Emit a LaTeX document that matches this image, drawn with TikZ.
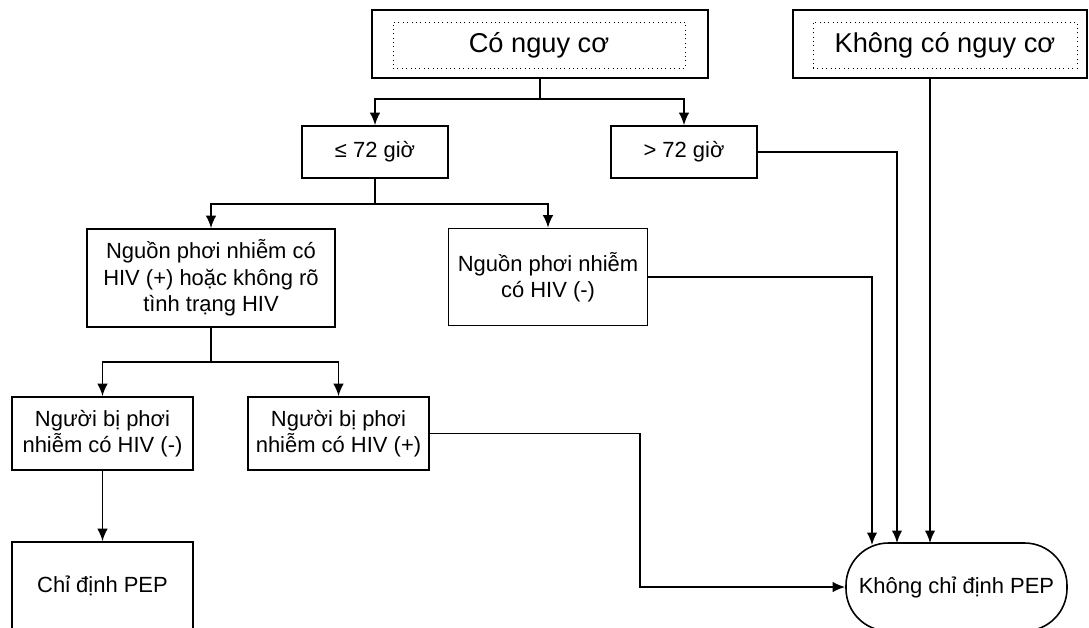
\documentclass[tikz,border=0pt]{standalone}
\usepackage{fontspec}
\setmainfont{Liberation Sans}
\usetikzlibrary{positioning,arrows.meta}

\begin{document}
\begin{tikzpicture}[x=0.02cm, y=-0.02cm,
    box/.style = {draw, line width=0.9pt, align=center, inner sep=0pt, font=\fontsize{12.5}{15}\selectfont},
    outerbox/.style = {draw, line width=1.4pt, inner sep=0pt},
    innerbox/.style = {draw, dotted, line width=0.5pt, inner sep=0pt, font=\fontsize{15.5}{18}\selectfont},
    arr/.style = {-{Latex[length=0.25cm,width=0.21cm]}, line width=1pt}
  ]
  \useasboundingbox (0,0) rectangle (1089,627);
  \clip (0,0) rectangle (1089,627);
  % top level
  \node[outerbox, minimum width=336*0.02cm, minimum height=68*0.02cm] (risk) at (540,44) {};
  \node[innerbox, minimum width=292*0.02cm, minimum height=46*0.02cm] (riskin) at (539,45) {Có nguy cơ};
  \node[outerbox, minimum width=294*0.02cm, minimum height=68*0.02cm] (norisk) at (940,44) {};
  \node[innerbox, minimum width=264*0.02cm, minimum height=46*0.02cm] (noriskin) at (945,45) {Không có nguy cơ};
  % time
  \node[box, minimum width=146*0.02cm, minimum height=52*0.02cm] (le72) at (375,152) {≤ 72 giờ};
  \node[box, minimum width=146*0.02cm, minimum height=52*0.02cm] (gt72) at (684,152) {> 72 giờ};
  % source
  \node[box, minimum width=248*0.02cm, minimum height=98*0.02cm] (srcpos) at (211,278) {Nguồn phơi nhiễm có\\HIV (+) hoặc không rõ\\tình trạng HIV};
  \node[box, minimum width=199*0.02cm, minimum height=97*0.02cm] (srcneg) at (548,277) {Nguồn phơi nhiễm\\có HIV (-)};
  % exposed person
  \node[box, minimum width=181*0.02cm, minimum height=73*0.02cm] (expneg) at (102.5,433.5) {Người bị phơi\\nhiễm có HIV (-)};
  \node[box, minimum width=181*0.02cm, minimum height=73*0.02cm] (exppos) at (338.5,433.5) {Người bị phơi\\nhiễm có HIV (+)};
  % result
  \node[box, minimum width=181*0.02cm, minimum height=88*0.02cm] (pep) at (102.5,586) {Chỉ định PEP};
  \node[box, rounded corners=0.85cm, minimum width=221*0.02cm, minimum height=88*0.02cm] (nopep) at (956.5,587) {Không chỉ định PEP};
  \coordinate (in1) at (872,545);
  \coordinate (in2) at (897,543);
  \coordinate (in3) at (930,543);

  \foreach \t in {le72,gt72} \draw[arr] (risk.south) -- ++(0,20) -| (\t.north);
  \foreach \t in {srcpos,srcneg} \draw[arr] (le72.south) -- ++(0,25) -| (\t.north);
  \foreach \t in {expneg,exppos} \draw[arr] (srcpos.south) -- ++(0,34) -| (\t.north);
  \draw[arr] (expneg) -- (pep);
  \draw[arr] (gt72.east) -| (in2);
  \draw[arr] (srcneg.east) -| (in1);
  \draw[arr] (norisk.south -| in3) -- (in3);
  \draw[arr] (exppos.east) -- ++(210,0) |- (nopep.west);
\end{tikzpicture}
\end{document}
